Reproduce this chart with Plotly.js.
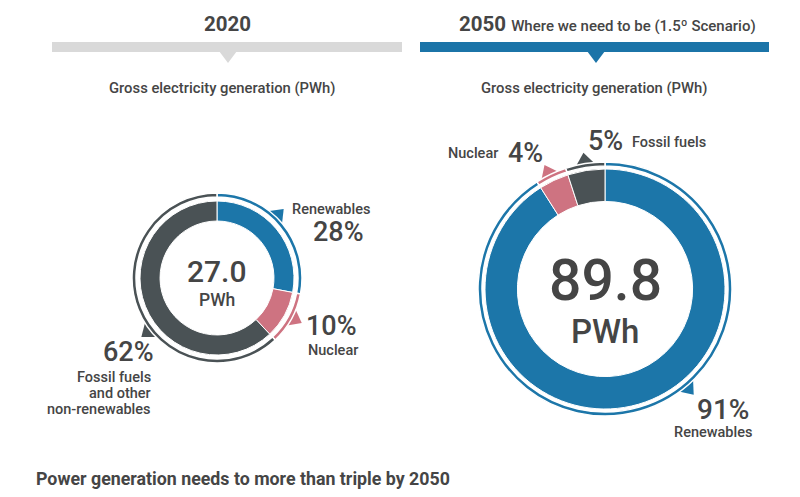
<!DOCTYPE html>
<html>
<head>
<meta charset="utf-8">
<script src="https://cdn.plot.ly/plotly-3.0.1.min.js"></script>
<style>html,body{margin:0;padding:0;background:#fff;}#chart{width:800px;height:497px;}</style>
</head>
<body>
<div id="chart"></div>
<script>
// ---- data ----
const categories = ["Renewables", "Nuclear", "Fossil fuels"];
const share2020 = [28, 10, 62];
const share2050 = [91, 4, 5];
const total2020 = "27.0";
const total2050 = "89.8";
const unit = "PWh";
const labels2020 = ["Renewables", "Nuclear", "Fossil fuels<br>and other<br>non-renewables"];
const labels2050 = ["Renewables", "Nuclear", "Fossil fuels"];
const headerYear2020 = "2020";
const headerYear2050 = "2050";
const headerNote2050 = "Where we need to be (1.5º Scenario)";
const subtitle = "Gross electricity generation (PWh)";
const footer = "Power generation needs to more than triple by 2050";

// ---- style ----
const W = 800, H = 497;
const colors = ["#1c76a9", "#ce7381", "#4a5255"];
const txt = "#454545";
const FONT = "Roboto, 'Open Sans', sans-serif";

function dom(cx, cy, r) {
  return { x: [(cx - r) / W, (cx + r) / W], y: [(H - cy - r) / H, (H - cy + r) / H] };
}
function px(x) { return x / W; }
function py(y) { return 1 - y / H; }

const L = { cx: 217, cy: 278, r: 77, hole: 0.74, ringIn: 81, ringOut: 85, ptr: [44, 118, 232] };
const R = { cx: 605, cy: 289, r: 120, hole: 0.73, ringIn: 123, ringOut: 127, ptr: [140, 334, 351] };

function pieTrace(vals, g, ring) {
  const rad = ring ? g.ringOut : g.r;
  return {
    type: "pie", values: vals, labels: categories, sort: false, direction: "clockwise", rotation: 0,
    hole: ring ? g.ringIn / g.ringOut : g.hole,
    domain: dom(g.cx, g.cy, rad),
    marker: { colors: colors, line: { color: "#ffffff", width: ring ? 1.5 : 1 } },
    textinfo: "none", hoverinfo: "label+percent", showlegend: false
  };
}

const data = [
  pieTrace(share2020, L, false), pieTrace(share2020, L, true),
  pieTrace(share2050, R, false), pieTrace(share2050, R, true)
];

function pointer(g, angDeg, color) {
  const a = angDeg * Math.PI / 180;
  const ux = Math.sin(a), uy = -Math.cos(a);
  const tx = Math.cos(a), ty = Math.sin(a);
  const b = g.ringOut - 2, t = g.ringOut + 11, hw = 10;
  const p = [
    [g.cx + ux * b - tx * hw, g.cy + uy * b - ty * hw],
    [g.cx + ux * b + tx * hw, g.cy + uy * b + ty * hw],
    [g.cx + ux * t, g.cy + uy * t]
  ];
  const path = "M" + p.map(q => px(q[0]).toFixed(5) + "," + py(q[1]).toFixed(5)).join(" L") + " Z";
  return { type: "path", xref: "paper", yref: "paper", path: path, fillcolor: color, line: { width: 0 }, layer: "below" };
}

const shapes = [
  { type: "rect", xref: "paper", yref: "paper", x0: px(52), x1: px(402), y0: py(52), y1: py(42), fillcolor: "#d9d9d9", line: { width: 0 } },
  { type: "path", xref: "paper", yref: "paper", path: `M${px(219)},${py(51)} L${px(237)},${py(51)} L${px(228)},${py(63)} Z`, fillcolor: "#d9d9d9", line: { width: 0 } },
  { type: "rect", xref: "paper", yref: "paper", x0: px(420), x1: px(769), y0: py(52), y1: py(42), fillcolor: "#1b74a8", line: { width: 0 } },
  { type: "path", xref: "paper", yref: "paper", path: `M${px(587)},${py(51)} L${px(605)},${py(51)} L${px(596)},${py(63)} Z`, fillcolor: "#1b74a8", line: { width: 0 } }
];
for (let i = 0; i < 3; i++) {
  shapes.push(pointer(L, L.ptr[i], colors[i]));
  shapes.push(pointer(R, R.ptr[i], colors[i]));
}

function ann(text, x, y, size, xanchor, weight) {
  return { text: text, x: px(x), y: py(y), xref: "paper", yref: "paper", xanchor: xanchor || "center", yanchor: "middle",
    showarrow: false, font: { family: FONT, size: size, color: txt, weight: weight || 400 } };
}
const fl = labels2020[2].split("<br>");
const LBL = 14.5, PCT = 27;
const annotations = [
  ann("<b>" + headerYear2020 + "</b>", 228, 24, 20.5),
  ann("<b>" + headerYear2050 + "</b> <span style='font-size:15px;font-weight:500'>" + headerNote2050 + "</span>", 457, 24, 20.5, "left"),
  ann(subtitle, 222, 88, 14.8, "center", 500),
  ann(subtitle, 594, 88, 14.8, "center", 500),
  // 2020 donut
  ann(total2020, L.cx, 271, 30, "center", 500),
  ann(unit, L.cx, 300, 17.5, "center", 500),
  ann(labels2020[0], 290, 209, LBL, "left", 500),
  ann(share2020[0] + "%", 366, 232, PCT, "right", 500),
  ann(share2020[1] + "%", 304, 326, PCT, "left", 500),
  ann(labels2020[1], 306, 350, LBL, "left", 500),
  ann(share2020[2] + "%", 156, 352, PCT, "right", 500),
  ann(fl[0], 153, 377, LBL, "right", 500),
  ann(fl[1], 153, 393, LBL, "right", 500),
  ann(fl[2], 153, 409, LBL, "right", 500),
  // 2050 donut
  ann(total2050, R.cx, 280, 57, "center", 500),
  ann(unit, R.cx, 331, 33, "center", 500),
  ann(share2050[0] + "%", 751, 409, 28, "right", 500),
  ann(labels2050[0], 754, 432, LBL, "right", 500),
  ann(labels2050[1], 446, 153, LBL, "left", 500),
  ann(share2050[1] + "%", 506, 153, PCT, "left", 500),
  ann(share2050[2] + "%", 586, 141, PCT, "left", 500),
  ann(labels2050[2], 630, 142, LBL, "left", 500),
  // footer
  ann("<b>" + footer + "</b>", 34, 478, 17.8, "left")
];

const layout = {
  width: W, height: H, margin: { l: 0, r: 0, t: 0, b: 0 },
  paper_bgcolor: "#ffffff", plot_bgcolor: "#ffffff",
  font: { family: FONT, color: txt },
  shapes: shapes, annotations: annotations, showlegend: false
};
Plotly.newPlot("chart", data, layout, { staticPlot: true, displayModeBar: false });
</script>
</body>
</html>
